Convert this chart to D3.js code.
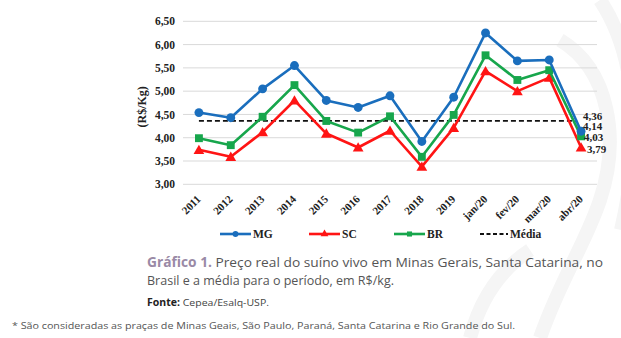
<!DOCTYPE html>
<html>
<head>
<meta charset="utf-8">
<script src="https://cdn.jsdelivr.net/npm/d3@7"></script>
<style>
  html, body { margin: 0; padding: 0; background: #fff; }
  svg { display: block; }
</style>
</head>
<body>
<svg id="chart" width="621" height="338"></svg>
<script>
// Categories (years and 2020 months)
const categories = ["2011","2012","2013","2014","2015","2016","2017","2018","2019","jan/20","fev/20","mar/20","abr/20"];
// Real live-hog price, R$/kg
const mg = [4.54, 4.43, 5.05, 5.55, 4.80, 4.65, 4.90, 3.92, 4.87, 6.25, 5.65, 5.67, 4.14];
const sc = [3.74, 3.59, 4.12, 4.80, 4.09, 3.79, 4.15, 3.38, 4.21, 5.43, 5.00, 5.29, 3.79];
const br = [3.99, 3.84, 4.45, 5.13, 4.36, 4.11, 4.46, 3.59, 4.49, 5.77, 5.24, 5.45, 4.03];
const media = 4.36;
const yTicks = [3.00, 3.50, 4.00, 4.50, 5.00, 5.50, 6.00, 6.50];

(function () {
const svg = d3.select("#chart");
const fmt = d => d.toFixed(2).replace(".", ",");
const serif = "'Liberation Serif', 'Times New Roman', serif";

const plotLeft = 183, plotRight = 597, plotTop = 21.3, plotBottom = 184.3;

const x = d3.scalePoint().domain(categories).range([plotLeft, plotRight]).padding(0.5);
const y = d3.scaleLinear().domain([3, 6.5]).range([plotBottom, plotTop]);

// Background watermark swirls
const wm = svg.append("g").attr("fill", "none").attr("stroke", "#f5f5f5").attr("stroke-width", 14);
wm.append("path").attr("d", "M560,40 C610,70 620,140 600,200 C585,245 560,280 540,338");
wm.append("path").attr("d", "M600,0 C640,60 640,150 621,230");
wm.append("path").attr("d", "M470,338 C480,300 500,270 530,250");

// Gridlines
svg.append("g")
  .selectAll("line")
  .data(yTicks)
  .join("line")
  .attr("x1", plotLeft).attr("x2", plotRight)
  .attr("y1", d => y(d)).attr("y2", d => y(d))
  .attr("stroke", "#d9d9d9").attr("stroke-width", 1);

// Y axis labels
const yAxis = d3.axisLeft(y).tickValues(yTicks).tickFormat(fmt).tickSize(0).tickPadding(8);
const gy = svg.append("g").attr("transform", `translate(${plotLeft},0)`).call(yAxis);
gy.select(".domain").remove();
gy.selectAll("text")
  .attr("font-family", serif).attr("font-weight", "bold")
  .attr("font-size", 11.5).attr("fill", "#222");

// Y title
svg.append("text")
  .attr("transform", `translate(146,${(plotTop + plotBottom) / 2 + 4}) rotate(-90)`)
  .attr("text-anchor", "middle")
  .attr("font-family", serif).attr("font-weight", "bold")
  .attr("font-size", 12).attr("fill", "#222")
  .text("(R$/Kg)");

// X axis labels, rotated
const xAxis = d3.axisBottom(x).tickSize(0).tickPadding(0);
const gx = svg.append("g").attr("transform", `translate(0,${plotBottom})`).call(xAxis);
gx.select(".domain").remove();
gx.selectAll("text")
  .attr("font-family", serif).attr("font-weight", "bold")
  .attr("font-size", 11).attr("fill", "#222")
  .attr("text-anchor", "end")
  .attr("dy", 0)
  .attr("transform", "translate(2,15.5) rotate(-45)");

// Average dashed line
svg.append("line")
  .attr("x1", x(categories[0])).attr("x2", x(categories[categories.length - 1]) - 4)
  .attr("y1", y(media)).attr("y2", y(media))
  .attr("stroke", "#111").attr("stroke-width", 1.8)
  .attr("stroke-dasharray", "5,3");

const series = [
  { name: "MG", values: mg, color: "#1a6ebd", symbol: d3.symbolCircle, size: 62 },
  { name: "SC", values: sc, color: "#ff1414", symbol: d3.symbolTriangle, size: 50 },
  { name: "BR", values: br, color: "#17a64c", symbol: d3.symbolSquare, size: 62 }
];

const line = d3.line().x((d, i) => x(categories[i])).y(d => y(d));

// Draw in order SC, BR, MG so blue sits on top
const drawOrder = [series[1], series[2], series[0]];
drawOrder.forEach(s => {
  const g = svg.append("g");
  g.append("path")
    .datum(s.values)
    .attr("d", line)
    .attr("fill", "none")
    .attr("stroke", s.color)
    .attr("stroke-width", 2.6)
    .attr("stroke-linejoin", "round");
  g.selectAll("path.m")
    .data(s.values)
    .join("path")
    .attr("class", "m")
    .attr("transform", (d, i) => `translate(${x(categories[i])},${y(d) + (s.symbol === d3.symbolTriangle ? 1 : 0)})`)
    .attr("d", d3.symbol().type(s.symbol).size(s.size))
    .attr("fill", s.color);
});

// End value labels
const lastX = x(categories[categories.length - 1]);
const endLabels = [
  { v: media, ly: 116 },
  { v: mg[mg.length - 1], ly: 126.5 },
  { v: br[br.length - 1], ly: 137.5 },
  { v: sc[sc.length - 1], ly: 149.5 }
];
svg.append("g")
  .selectAll("text")
  .data(endLabels)
  .join("text")
  .attr("x", (d, i) => lastX + (i < 2 ? 2 : (i === 2 ? 3 : 6)))
  .attr("y", d => d.ly)
  .attr("dy", "0.35em")
  .attr("font-family", serif).attr("font-weight", "bold")
  .attr("font-size", 11).attr("fill", "#222")
  .text(d => fmt(d.v));

// Legend
const legendY = 234;
const legend = [
  { name: "MG", color: "#1a6ebd", symbol: d3.symbolCircle, lx: 220 },
  { name: "SC", color: "#ff1414", symbol: d3.symbolTriangle, lx: 309 },
  { name: "BR", color: "#17a64c", symbol: d3.symbolSquare, lx: 394 },
  { name: "Média", color: "#111", symbol: null, lx: 480 }
];
const lg = svg.append("g");
legend.forEach(l => {
  const g = lg.append("g");
  g.append("line")
    .attr("x1", l.lx).attr("x2", l.lx + (l.symbol ? 31 : 28))
    .attr("y1", legendY).attr("y2", legendY)
    .attr("stroke", l.color)
    .attr("stroke-width", l.symbol ? 2.6 : 1.8)
    .attr("stroke-dasharray", l.symbol ? null : "4,2.5");
  if (l.symbol) {
    g.append("path")
      .attr("transform", `translate(${l.lx + 15.5},${legendY})`)
      .attr("d", d3.symbol().type(l.symbol).size(26))
      .attr("fill", l.color);
  }
  g.append("text")
    .attr("x", l.lx + (l.symbol ? 33 : 30)).attr("y", legendY)
    .attr("dy", "0.35em")
    .attr("font-family", serif).attr("font-weight", "bold")
    .attr("font-size", 11.5).attr("fill", "#222")
    .text(l.name);
});

// Caption
const sans = "'Open Sans', 'Noto Sans', sans-serif";
const cap = svg.append("text")
  .attr("x", 147).attr("y", 267)
  .attr("font-family", sans).attr("font-size", 13.4).attr("fill", "#555")
  .attr("textLength", 456).attr("lengthAdjust", "spacingAndGlyphs");
cap.append("tspan").attr("font-weight", "bold").attr("fill", "#9a8aa6").text("Gráfico 1.");
cap.append("tspan").text(" Preço real do suíno vivo em Minas Gerais, Santa Catarina, no");
svg.append("text")
  .attr("x", 147).attr("y", 285)
  .attr("font-family", sans).attr("font-size", 13.4).attr("fill", "#555")
  .attr("textLength", 247).attr("lengthAdjust", "spacingAndGlyphs")
  .text("Brasil e a média para o período, em R$/kg.");

const src = svg.append("text")
  .attr("x", 147).attr("y", 306)
  .attr("font-family", sans).attr("font-size", 9.8).attr("fill", "#444")
  .attr("textLength", 122).attr("lengthAdjust", "spacingAndGlyphs");
src.append("tspan").attr("font-weight", "bold").attr("fill", "#222").text("Fonte:");
src.append("tspan").text(" Cepea/Esalq-USP.");

svg.append("text")
  .attr("x", 12).attr("y", 329)
  .attr("font-family", sans).attr("font-size", 9.8).attr("fill", "#555")
  .attr("textLength", 503).attr("lengthAdjust", "spacingAndGlyphs")
  .text("* São consideradas as praças de Minas Geais, São Paulo, Paraná, Santa Catarina e Rio Grande do Sul.");
})();
</script>
</body>
</html>
